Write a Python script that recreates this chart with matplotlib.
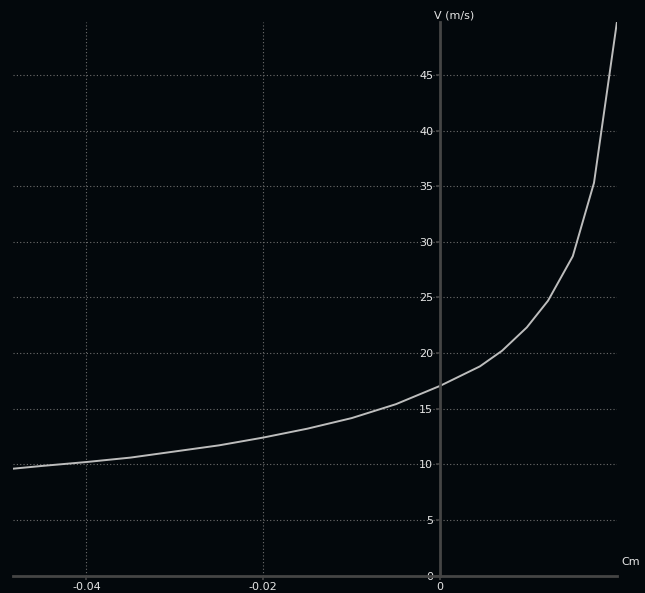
import matplotlib
matplotlib.use("Agg")
import matplotlib.pyplot as plt

# values
cm = [-0.0483, -0.045, -0.04, -0.035, -0.03, -0.025, -0.02, -0.015, -0.01, -0.005,
      0.0, 0.0045, 0.007, 0.0098, 0.0122, 0.015, 0.0174, 0.0200]
v = [9.6, 9.85, 10.2, 10.6, 11.15, 11.7, 12.4, 13.2, 14.15, 15.4,
     17.05, 18.8, 20.2, 22.3, 24.7, 28.7, 35.3, 49.8]

x_ticks = [-0.04, -0.02, 0]
x_tick_labels = ["-0.04", "-0.02", "0"]
y_ticks = [0, 5, 10, 15, 20, 25, 30, 35, 40, 45]

bg = "#03080c"
axis_col = "#454545"
grid_col = "#6e6e6e"
text_col = "#e6e6e6"

plt.rcParams['font.family'] = ['DejaVu Sans']

fig = plt.figure(figsize=(6.45, 5.93), dpi=100, facecolor=bg)
W, H = 645, 593
left_px, right_px, top_px, bot_px = 13, 617, 21.5, 575.5
ax = fig.add_axes([left_px / W, 1 - bot_px / H, (right_px - left_px) / W, (bot_px - top_px) / H])
ax.set_facecolor(bg)

ax.plot(cm, v, color="#bdbdbd", lw=1.4)

ax.set_xlim(-0.0483, 0.0200)
ax.set_ylim(0, 49.8)

ax.set_xticks(x_ticks)
ax.set_xticklabels(x_tick_labels)
ax.set_yticks(y_ticks)

ax.grid(True, color=grid_col, linestyle=(0, (1, 2)), linewidth=0.8)
ax.set_axisbelow(True)

for s in ["top", "right"]:
    ax.spines[s].set_visible(False)
ax.spines["left"].set_position(("data", 0))
ax.spines["left"].set_color(axis_col)
ax.spines["left"].set_linewidth(2)
ax.spines["bottom"].set_color(axis_col)
ax.spines["bottom"].set_linewidth(2)

ax.tick_params(axis="both", colors=axis_col, labelcolor=text_col, labelsize=8,
               length=3, width=1.2, direction="out", pad=2)

# axis titles sit at the ends of the axes
fig.text(434 / W, 1 - 15 / H, "V (m/s)", color=text_col, fontsize=8, ha="left", va="center")
fig.text(621 / W, 1 - 562 / H, "Cm", color=text_col, fontsize=8, ha="left", va="center")

fig.savefig("out.png", dpi=100, facecolor=bg)
